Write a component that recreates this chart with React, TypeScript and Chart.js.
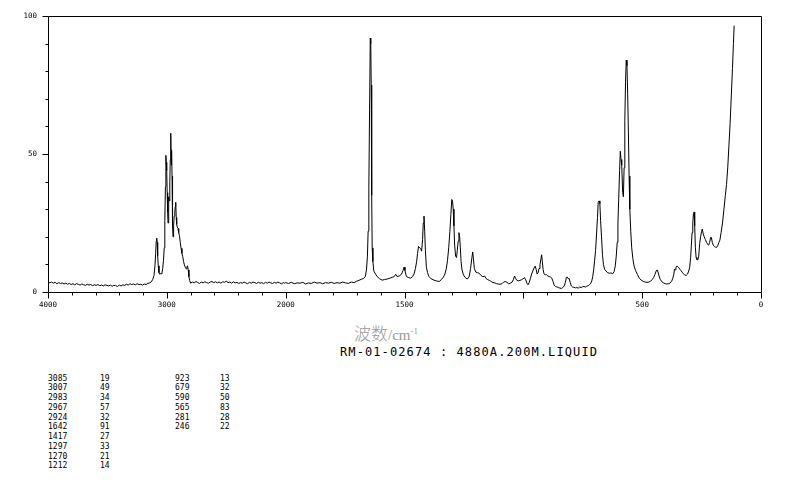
import React, { useEffect, useRef } from "react";
import { Chart, registerables } from "chart.js";

Chart.register(...registerables);

// Raman spectrum (wavenumber in cm-1, relative intensity)
const wavenumbers = [
  4000, 3985, 3970, 3955, 3940, 3925, 3910, 3895, 3880, 3865, 3850, 3835, 3820, 3805, 3790, 3775, 3760, 3745, 3730, 3715,
  3700, 3685, 3670, 3655, 3640, 3625, 3610, 3595, 3580, 3565, 3550, 3535, 3520, 3505, 3490, 3475, 3460, 3445, 3430, 3415,
  3400, 3385, 3370, 3355, 3340, 3325, 3310, 3295, 3280, 3265, 3250, 3235, 3220, 3205, 3190, 3175, 3160, 3145, 3130, 3118,
  3108, 3100, 3094, 3089, 3085, 3081, 3077, 3072, 3066, 3058, 3050, 3042, 3035, 3028, 3022, 3017, 3012, 3008, 3005, 3001,
  2997, 2993, 2990, 2986, 2983, 2979, 2975, 2971, 2967, 2963, 2960, 2956, 2952, 2948, 2943, 2938, 2933, 2929, 2925, 2921,
  2917, 2912, 2906, 2900, 2894, 2887, 2880, 2873, 2866, 2859, 2852, 2845, 2838, 2831, 2826, 2820, 2814, 2808, 2800, 2785,
  2770, 2755, 2740, 2725, 2710, 2695, 2680, 2665, 2650, 2635, 2620, 2605, 2590, 2575, 2560, 2545, 2530, 2515, 2500, 2485,
  2470, 2455, 2440, 2425, 2410, 2395, 2380, 2365, 2350, 2335, 2320, 2305, 2290, 2275, 2260, 2245, 2230, 2215, 2200, 2185,
  2170, 2155, 2140, 2125, 2110, 2095, 2080, 2065, 2050, 2035, 2020, 2010, 2000,
  1988, 1976, 1964, 1952, 1940, 1928, 1916, 1904, 1892, 1880, 1868, 1856, 1844, 1832, 1820, 1808, 1796, 1784, 1772, 1760,
  1748, 1736, 1724, 1712, 1702, 1692, 1682, 1672, 1665, 1660, 1656, 1653, 1650, 1647, 1644, 1642, 1640, 1638, 1636, 1633,
  1629, 1622, 1615, 1605, 1594, 1584, 1573, 1562, 1552, 1543, 1537, 1531, 1522, 1513, 1506, 1502, 1498, 1492, 1482, 1474,
  1466, 1460, 1454, 1449, 1445, 1441, 1436, 1432, 1428, 1424, 1421, 1418, 1415, 1412, 1408, 1403, 1397, 1388, 1376, 1365,
  1354, 1345, 1337, 1330, 1324, 1319, 1314, 1309, 1305, 1301, 1298, 1295, 1292, 1289, 1285, 1281, 1278, 1274, 1271, 1268,
  1265, 1262, 1258, 1252, 1245, 1236, 1228, 1222, 1217, 1213, 1210, 1206, 1200, 1193, 1186, 1178, 1170, 1163, 1157, 1150,
  1143, 1135, 1128, 1120, 1112, 1105, 1098, 1090, 1083, 1076, 1069, 1062, 1055, 1048, 1042, 1037, 1033, 1028, 1022, 1015,
  1008, 1001, 995, 990, 985, 980, 975, 970, 965, 960, 955, 950, 946, 942, 938, 934, 930, 926, 923, 920,
  917, 913, 908, 903, 897, 891, 886, 880, 875, 870, 864, 858, 852, 846, 840, 834, 828, 823, 819, 815,
  811, 807, 803, 798, 793, 787, 781, 775, 769, 763, 757, 751, 745, 739, 733, 727, 721, 716, 712, 708,
  704, 700, 696, 692, 688, 685, 681, 678, 675, 671, 667, 663, 658, 652, 645, 638, 631, 624, 618, 613,
  609, 605, 602, 599, 595, 592, 589, 586, 582, 579, 576, 573, 570, 567, 564, 561, 558, 555, 552, 548,
  544, 539, 534, 528, 520, 512, 504, 496, 488, 480, 472, 465, 458, 452, 446, 441, 437, 433, 429, 424,
  418, 410, 403, 396, 389, 382, 376, 371, 367, 364, 361, 358, 354, 350, 346, 342, 337, 332, 327, 321,
  315, 309, 304, 300, 296, 293, 290, 287, 284, 281, 279, 276, 273, 270, 266, 262, 258, 254, 250, 247,
  243, 239, 234, 229, 224, 220, 216, 212, 209, 205, 201, 196, 191, 186, 181, 177, 173, 168, 162, 156,
  150, 145, 140, 135, 130, 125, 120, 116, 113,
];

const intensities = [
  3.8, 3.3, 3.6, 3.2, 3.5, 3.0, 3.4, 3.1, 3.3, 2.9, 3.2, 2.8, 3.1, 2.7, 3.0, 2.6, 3.0, 2.8, 2.5, 2.9,
  2.6, 2.4, 2.8, 2.5, 2.7, 2.3, 2.6, 2.4, 2.7, 2.3, 2.5, 2.2, 2.6, 2.4, 2.2, 2.5, 2.1, 2.4, 2.3, 2.0,
  2.5, 2.2, 2.6, 2.4, 2.8, 2.5, 3.0, 2.7, 2.9, 2.6, 3.0, 2.7, 2.8, 2.5, 2.9, 2.7, 3.1, 3.3, 3.7, 4.6,
  6.0, 9.5, 14, 18.5, 19.5, 18, 13, 9.5, 7.0, 6.4, 6.8, 6.5, 8.5, 11.5, 16, 26, 38, 49.5, 47, 44,
  36, 29, 25, 30, 34.5, 33, 40, 48, 57.5, 46, 51.5, 42, 24, 20, 24, 27.5, 29, 31, 32.5, 27,
  24.5, 23.5, 23, 21.5, 20.5, 18, 15.8, 14, 12.8, 11, 9.8, 9, 8.4, 9, 9.5, 8, 5.5, 4.2, 3.2, 3.6,
  3.3, 3.8, 3.4, 3.1, 3.6, 3.3, 3.7, 3.4, 3.2, 3.6, 3.8, 3.4, 3.7, 3.3, 3.6, 3.2, 3.7, 3.5, 3.9, 3.4,
  3.6, 3.2, 3.7, 3.3, 3.5, 3.1, 3.4, 3.2, 3.6, 3.3, 3.0, 3.5, 3.2, 3.6, 3.4, 3.1, 3.5, 3.2, 3.4, 3.0,
  3.5, 3.2, 3.6, 3.3, 3.1, 3.5, 3.2, 3.6, 3.3, 3.0, 3.4, 3.2, 3.4,
  3.1, 3.5, 3.0, 3.3, 3.2, 3.5, 2.9, 3.3, 3.1, 3.6, 3.2, 3.4, 3.0, 3.4, 3.2, 3.5, 3.1, 3.4, 3.2, 3.6,
  3.3, 3.1, 3.6, 3.4, 3.9, 4.2, 4.6, 4.9, 5.6, 8.0, 13, 22, 38, 66, 92, 90, 75, 35, 16, 11,
  7.6, 6.5, 5.6, 4.8, 4.3, 4.5, 4.7, 5.0, 5.3, 5.6, 6.4, 5.6, 5.8, 6.4, 7.8, 9.0, 7.8, 5.6, 5.2, 5.0,
  5.6, 6.5, 8.5, 11, 14, 16.5, 16, 15.8, 14.8, 19, 25, 27.5, 22, 15, 9, 7, 5.6, 4.8, 4.3, 4.0,
  3.8, 4.5, 5.3, 6.5, 8.5, 11.5, 16, 22, 28, 33.5, 33, 30, 24, 17, 13, 12.5, 15, 18.5, 21.5, 20,
  16, 11, 8, 6.2, 5.3, 4.7, 5.5, 8.5, 12, 14.5, 12, 8.5, 7.2, 7.0, 6.8, 6.0, 5.5, 5.8, 4.9, 4.5,
  4.2, 3.8, 3.4, 3.3, 3.0, 2.9, 2.8, 3.0, 3.6, 3.8, 3.5, 3.0, 3.2, 3.5, 4.5, 5.8, 5.0, 4.3, 4.0, 4.2,
  4.4, 4.8, 5.2, 4.4, 3.2, 2.6, 3.5, 5.0, 6.5, 7.6, 8.7, 9.4, 8.2, 6.5, 7.0, 8.5, 9.8, 12, 13.5, 11,
  8.2, 6.6, 6.2, 6.3, 5.8, 5.6, 5.4, 5.0, 3.8, 2.4, 2.0, 1.8, 1.6, 1.4, 1.3, 1.6, 2.2, 3.5, 5.3, 5.4,
  4.8, 4.9, 3.5, 2.2, 1.8, 1.7, 1.5, 1.6, 1.4, 1.8, 1.6, 1.9, 2.0, 1.8, 2.1, 2.3, 2.7, 3.2, 4.0, 5.6,
  8.0, 11.5, 15, 21, 27, 32.5, 33, 32, 26, 20, 13.5, 10, 8.2, 7.6, 7.0, 6.8, 6.9, 6.6, 7.4, 9.5,
  13, 18, 25, 33, 44, 51, 48, 46, 36, 34.5, 45, 62, 76, 84, 82, 72, 58, 42, 30, 22,
  16, 12, 9.4, 7.8, 6.4, 5.0, 4.3, 3.9, 3.6, 3.5, 3.6, 3.9, 4.5, 5.2, 6.4, 7.6, 8.0, 7.2, 5.8, 4.6,
  3.8, 3.3, 3.0, 2.9, 3.0, 3.3, 3.9, 5.0, 6.3, 8.3, 8.0, 8.8, 9.4, 9.2, 8.8, 8.3, 7.8, 7.2, 6.6, 6.2,
  6.0, 6.5, 7.6, 9.0, 12.5, 17, 21.5, 25, 28.5, 29, 24, 16, 12.5, 11.8, 11.6, 13, 17.6, 20, 22, 22.8,
  21, 20, 19, 18, 17.2, 17, 18, 19.8, 19.8, 18, 17, 16.5, 16.2, 16.2, 17, 18, 18.8, 21.5, 25, 30,
  35, 39, 45, 53, 61, 71, 81, 90, 96.5,
];

// axis ticks
const xLabelTicks = [4000, 3000, 2000, 1500, 500, 0];
const xMajorTicks = [4000, 3000, 2000, 1500, 1000, 500, 0];
const xMinorTicks = [
  4000, 3800, 3600, 3400, 3200, 3000, 2800, 2600, 2400, 2200, 2000,
  1900, 1800, 1700, 1600, 1500, 1400, 1300, 1200, 1100, 1000,
  900, 800, 700, 600, 500, 400, 300, 200, 100, 0,
];
const yLabelTicks = [0, 50, 100];
const yMajorTicks = [0, 50, 100];
const yMinorTicks = [0, 10, 20, 30, 40, 50, 60, 70, 80, 90, 100];

// peak table
const peakWavenumbers = [3085, 3007, 2983, 2967, 2924, 1642, 1417, 1297, 1270, 1212, 923, 679, 590, 565, 281, 246];
const peakIntensities = [19, 49, 34, 57, 32, 91, 27, 33, 21, 14, 13, 32, 50, 83, 28, 22];

const xAxisTitleCJK = "波数";
const xAxisTitleUnit = "/cm";
const xAxisTitleSup = "-1";
const sampleInfo = "RM-01-02674 : 4880A.200M.LIQUID";

// axis break: 4000-2000 drawn at half the scale of 2000-0
const BREAK = 2000;
function toAxis(w: number): number {
  return w <= BREAK ? w : BREAK + (w - BREAK) / 2;
}

const MONO = '"DejaVu Sans Mono", monospace';

const framePlugin = {
  id: "frameTicks",
  afterDraw(chart: any) {
    const { ctx, chartArea: a, scales } = chart;
    const xs = scales.x;
    const ys = scales.y;
    const L = Math.round(a.left) + 0.5;
    const R = Math.round(a.right) + 0.5;
    const T = Math.round(a.top) + 0.5;
    const B = Math.round(a.bottom) + 0.5;
    ctx.save();
    ctx.strokeStyle = "#000";
    ctx.lineWidth = 1;
    ctx.beginPath();
    ctx.moveTo(L, T);
    ctx.lineTo(R, T);
    ctx.lineTo(R, B);
    ctx.lineTo(L, B);
    ctx.closePath();
    ctx.stroke();
    ctx.beginPath();
    xMinorTicks.forEach((w) => {
      const px = Math.round(xs.getPixelForValue(toAxis(w))) + 0.5;
      const len = xMajorTicks.includes(w) ? 6 : 3;
      ctx.moveTo(px, B);
      ctx.lineTo(px, B + len);
    });
    yMinorTicks.forEach((v) => {
      const py = Math.round(ys.getPixelForValue(v)) + 0.5;
      const len = yMajorTicks.includes(v) ? 6 : 3;
      ctx.moveTo(L, py);
      ctx.lineTo(L - len, py);
    });
    ctx.stroke();
    ctx.restore();
  },
};

export default function App() {
  const canvasRef = useRef<HTMLCanvasElement | null>(null);

  useEffect(() => {
    if (!canvasRef.current) return;
    const points = wavenumbers.map((w, i) => ({ x: toAxis(w), y: intensities[i] }));
    const chart = new Chart(canvasRef.current, {
      type: "line",
      data: {
        datasets: [
          {
            data: points,
            borderColor: "#000",
            borderWidth: 1,
            pointRadius: 0,
            tension: 0,
            fill: false,
          },
        ],
      },
      options: {
        responsive: false,
        animation: false,
        events: [],
        layout: { padding: { left: 0, top: 16, right: 33, bottom: 0 } },
        plugins: { legend: { display: false }, tooltip: { enabled: false } },
        scales: {
          x: {
            type: "linear",
            min: 0,
            max: toAxis(4000),
            reverse: true,
            afterFit(scale: any) {
              scale.height = 28;
            },
            afterBuildTicks(scale: any) {
              scale.ticks = xLabelTicks.map((w) => ({ value: toAxis(w) }));
            },
            grid: { display: false, drawTicks: false },
            border: { display: false },
            ticks: {
              autoSkip: false,
              maxRotation: 0,
              minRotation: 0,
              padding: 9,
              color: "#000",
              font: { family: MONO, size: 7.5 },
              callback: (_v: any, i: number) => String(xLabelTicks[i]),
            },
          },
          y: {
            type: "linear",
            min: 0,
            max: 100,
            afterFit(scale: any) {
              scale.width = 48;
            },
            afterBuildTicks(scale: any) {
              scale.ticks = yLabelTicks.map((v) => ({ value: v }));
            },
            grid: { display: false, drawTicks: false },
            border: { display: false },
            ticks: {
              padding: 11,
              color: "#000",
              font: { family: MONO, size: 7.5 },
              callback: (v: any) => String(v),
            },
          },
        },
      },
      plugins: [framePlugin],
    });
    return () => chart.destroy();
  }, []);

  const rowH = 9.75;
  const group1 = peakWavenumbers.slice(0, 10);
  const group2 = peakWavenumbers.slice(10);
  const cell = (left: number, top: number, text: string, key: string) => (
    <div
      key={key}
      style={{
        position: "absolute",
        left,
        top,
        fontFamily: MONO,
        fontSize: 8,
        lineHeight: "9px",
        color: "#000",
        whiteSpace: "pre",
      }}
    >
      {text}
    </div>
  );

  return (
    <div
      style={{
        position: "absolute",
        left: 0,
        top: 0,
        width: 794,
        height: 482,
        background: "#fff",
        overflow: "hidden",
      }}
    >
      <canvas ref={canvasRef} width={794} height={320} style={{ position: "absolute", left: 0, top: 0 }} />
      <div
        style={{
          position: "absolute",
          left: 354,
          top: 323,
          fontFamily: '"Liberation Serif", "Noto Sans CJK SC", serif',
          fontSize: 15,
          lineHeight: "19px",
          color: "#9a9a9a",
          whiteSpace: "nowrap",
        }}
      >
        <span style={{ fontFamily: '"Noto Sans CJK SC", sans-serif', fontSize: 17, fontWeight: 300 }}>{xAxisTitleCJK}</span>
        {xAxisTitleUnit}
        <span style={{ fontSize: 9, position: "relative", top: -6 }}>{xAxisTitleSup}</span>
      </div>
      <div
        style={{
          position: "absolute",
          left: 340,
          top: 345,
          fontFamily: MONO,
          fontSize: 12,
          letterSpacing: "1.1px",
          lineHeight: "14px",
          color: "#000",
          whiteSpace: "pre",
        }}
      >
        {sampleInfo}
      </div>
      {group1.map((w, i) => cell(48, 373.5 + i * rowH, String(w), "a" + i))}
      {group1.map((_w, i) => cell(100, 373.5 + i * rowH, String(peakIntensities[i]), "b" + i))}
      {group2.map((w, i) => cell(175, 373.5 + i * rowH, String(w), "c" + i))}
      {group2.map((_w, i) => cell(220, 373.5 + i * rowH, String(peakIntensities[10 + i]), "d" + i))}
    </div>
  );
}
